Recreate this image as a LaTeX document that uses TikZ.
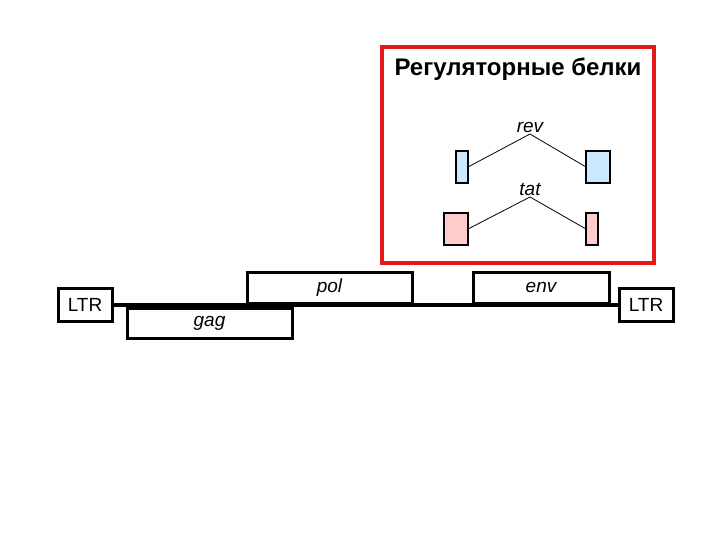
\documentclass[tikz,border=0pt]{standalone}
\usepackage{fontspec}
\setmainfont{Liberation Sans}
\definecolor{boxred}{HTML}{E41A1A}
\definecolor{revblue}{HTML}{CCE8FF}
\definecolor{tatpink}{HTML}{FFCCCC}
\begin{document}
\begin{tikzpicture}[x=1pt,y=-1pt,
  genebox/.style={draw=black,line width=3pt,fill=white,inner sep=0pt,outer sep=0pt},
  exon/.style={draw=black,line width=2.5pt,inner sep=0pt,outer sep=0pt},
  lbl/.style={font=\fontsize{19}{22}\selectfont\itshape,inner sep=0pt},
  splice/.style={draw=black,line width=0.8pt}]
\useasboundingbox (0,0) rectangle (720,540);
% red frame
\draw[boxred,line width=4pt] (382,47) rectangle (654,263);
\node[font=\fontsize{24}{28}\selectfont\bfseries] (title) at (518,69) {Регуляторные белки};
% rev
\node[exon,fill=revblue,minimum width=12pt,minimum height=32pt] (revL) at (462,167) {};
\node[exon,fill=revblue,minimum width=24pt,minimum height=32pt] (revR) at (598,167) {};
\coordinate (revA) at (530,134);
\node[lbl,anchor=south] (rev) at (530,133) {rev};
\draw[splice] (revL.east) -- (revA) -- (revR.west);
% tat
\node[exon,fill=tatpink,minimum width=24pt,minimum height=32pt] (tatL) at (456,229) {};
\node[exon,fill=tatpink,minimum width=12pt,minimum height=32pt] (tatR) at (592,229) {};
\coordinate (tatA) at (530,197);
\node[lbl,anchor=south] (tat) at (530,196) {tat};
\draw[splice] (tatL.east) -- (tatA) -- (tatR.west);
% genome
\node[genebox,minimum width=54pt,minimum height=33pt,font=\fontsize{19}{22}\selectfont] (ltrL) at (85,305) {LTR};
\node[genebox,minimum width=54pt,minimum height=33pt,font=\fontsize{19}{22}\selectfont] (ltrR) at (646,305) {LTR};
\draw[line width=4pt] (ltrL.east) -- (ltrR.west);
\node[genebox,minimum width=165pt,minimum height=30pt,font=\fontsize{19}{22}\selectfont\itshape] (gag) at (209.5,323) {gag};
\node[genebox,minimum width=165pt,minimum height=31pt,font=\fontsize{19}{22}\selectfont\itshape] (pol) at (329.5,287.5) {pol};
\node[genebox,minimum width=136pt,minimum height=31pt,font=\fontsize{19}{22}\selectfont\itshape] (env) at (541,287.5) {env};
\end{tikzpicture}
\end{document}
